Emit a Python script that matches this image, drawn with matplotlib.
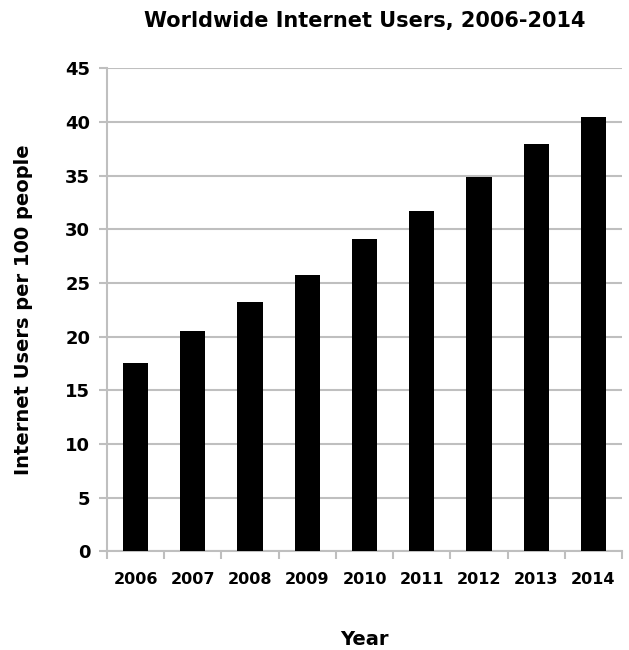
import matplotlib.pyplot as plt
import numpy as np

years = ['2006', '2007', '2008', '2009', '2010', '2011', '2012', '2013', '2014']
users_per_100 = [17.5, 20.5, 23.2, 25.7, 29.1, 31.7, 34.9, 37.9, 40.5]
y_ticks = [0, 5, 10, 15, 20, 25, 30, 35, 40, 45]

plt.rcParams['font.family'] = ['DejaVu Sans']
grid_color = '#bfbfbf'

fig = plt.figure(figsize=(6.29, 6.5), dpi=100)
ax = fig.add_axes([0.170, 0.152, 0.819, 0.743])

x = np.arange(len(years))
ax.bar(x, users_per_100, width=0.44, color='black', zorder=3)

ax.set_xlim(-0.5, len(years) - 0.5)
ax.set_ylim(0, 45)
ax.set_yticks(y_ticks)
ax.yaxis.grid(True, color=grid_color, linewidth=1.5, zorder=0)

# category labels sit between boundary tick marks
ax.set_xticks(x)
ax.set_xticklabels(years, fontsize=11.5, fontweight='bold')
ax.set_xticks(np.arange(-0.5, len(years)), minor=True)
ax.tick_params(axis='x', which='major', length=0, pad=15)
ax.tick_params(axis='x', which='minor', length=6, width=1.5, color=grid_color)
ax.tick_params(axis='y', length=6, width=1.5, color=grid_color, labelsize=13, pad=6)
for lbl in ax.get_yticklabels():
    lbl.set_fontweight('bold')

for side in ['top', 'right']:
    ax.spines[side].set_visible(False)
for side in ['left', 'bottom']:
    ax.spines[side].set_color(grid_color)
    ax.spines[side].set_linewidth(1.5)

ax.set_title('Worldwide Internet Users, 2006-2014', fontsize=15, fontweight='bold', pad=30)
ax.set_xlabel('Year', fontsize=14, fontweight='bold', labelpad=31)
ax.set_ylabel('Internet Users per 100 people', fontsize=14, fontweight='bold', labelpad=23)

fig.savefig('out.png', dpi=100)
